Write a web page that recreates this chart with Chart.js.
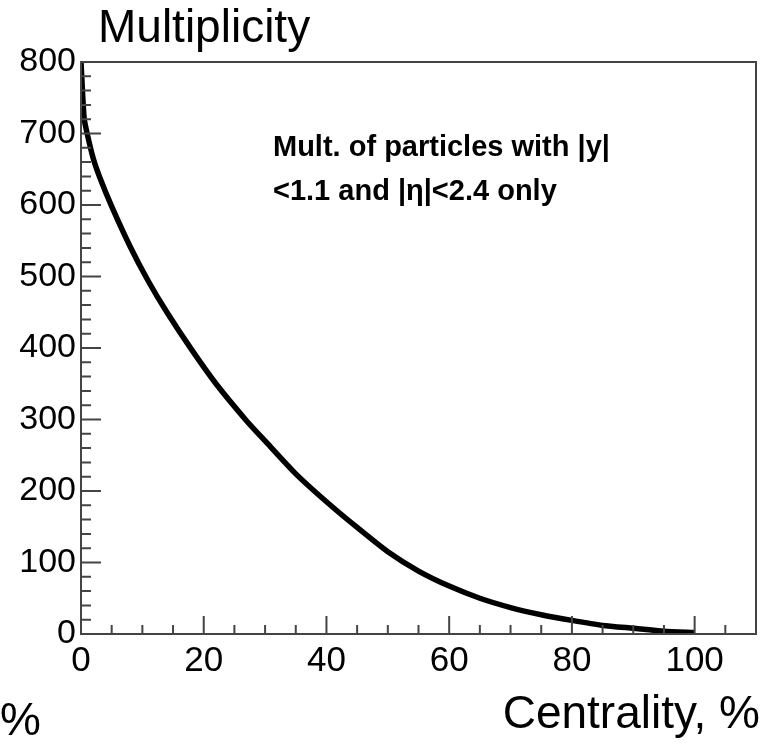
<!DOCTYPE html>
<html>
<head>
<meta charset="utf-8">
<script src="https://cdn.jsdelivr.net/npm/chart.js@4.4.1/dist/chart.umd.min.js"></script>
<style>
  html, body { margin: 0; padding: 0; background: #fff; }
  #wrap { width: 772px; height: 743px; }
</style>
</head>
<body>
<div id="wrap"><canvas id="multChart" width="772" height="743"></canvas></div>
<script>
//--- Data ---//
const centrality = [0, 0.5, 1, 2, 3, 5, 8, 11, 14, 18, 22, 27, 30, 35, 40, 45, 50, 55, 60, 65, 70, 75, 80, 85, 90, 95, 100];
const multiplicity = [800, 722, 700, 665, 640, 598, 542, 493, 450, 398, 350, 298, 270, 224, 185, 149, 115, 88, 67, 50, 37, 27, 19, 12, 8, 4, 2];

const xTicks = [0, 20, 40, 60, 80, 100];
const yTicks = [0, 100, 200, 300, 400, 500, 600, 700, 800];
const xMinorStep = 5;
const yMinorStep = 20;

const yTitle = 'Multiplicity';
const xTitle = 'Centrality, %';
const noteLines = ['Mult. of particles with |y|', '<1.1 and |\u03B7|<2.4 only'];
//------------//

const fontFamily = '"Liberation Sans", Arial, Helvetica, sans-serif';
const axisColor = '#444';

//--- Helpers ---//
function range(min, max, step) {
    const out = [];
    for (let v = min; v <= max + 1e-9; v += step) out.push(v);
    return out;
}
//--------------//

//--- ROOT style frame, inner ticks and texts ---//
const rootFrame = {
    id: 'rootFrame',
    afterDraw(chart) {
        const { ctx, chartArea: a, scales } = chart;
        const x = scales.x, y = scales.y;
        ctx.save();
        ctx.strokeStyle = axisColor;
        ctx.lineWidth = 2;
        ctx.strokeRect(a.left, a.top, a.right - a.left, a.bottom - a.top);

        ctx.beginPath();
        range(x.min, x.max, xMinorStep).forEach(v => {
            if (v >= x.max) return;
            const px = x.getPixelForValue(v);
            const len = xTicks.includes(v) ? 18 : 9;
            ctx.moveTo(px, a.bottom);
            ctx.lineTo(px, a.bottom - len);
        });
        range(y.min, y.max, yMinorStep).forEach(v => {
            const py = y.getPixelForValue(v);
            const len = yTicks.includes(v) ? 20 : 10;
            ctx.moveTo(a.left, py);
            ctx.lineTo(a.left + len, py);
        });
        ctx.stroke();

        ctx.fillStyle = '#000';
        ctx.textBaseline = 'alphabetic';
        ctx.font = '46px ' + fontFamily;
        ctx.textAlign = 'left';
        ctx.fillText(yTitle, 98, 42);
        ctx.textAlign = 'right';
        ctx.fillText(xTitle, 760, 728);
        ctx.textAlign = 'left';
        ctx.fillText('%', 0, 735);

        ctx.font = 'bold 29px ' + fontFamily;
        noteLines.forEach((line, i) => ctx.fillText(line, 273, 156 + i * 44));
        ctx.restore();
    }
};
//------------------//

//---   Chart   ----//
new Chart(document.getElementById('multChart'), {
    type: 'line',
    data: {
        datasets: [{
            label: yTitle,
            data: centrality.map((c, i) => ({ x: c, y: multiplicity[i] })),
            borderColor: '#000',
            borderWidth: 5.5,
            pointRadius: 0,
            tension: 0.2,
            fill: false
        }]
    },
    options: {
        responsive: false,
        animation: false,
        layout: { padding: { top: 62, right: 16, left: 0, bottom: 0 } },
        plugins: {
            legend: { display: false },
            tooltip: { enabled: false }
        },
        scales: {
            x: {
                type: 'linear',
                min: 0,
                max: 110,
                grid: { display: false, drawTicks: false },
                border: { display: false },
                afterBuildTicks: scale => { scale.ticks = xTicks.map(v => ({ value: v })); },
                afterFit: scale => { scale.height = 109; },
                ticks: {
                    color: '#000',
                    padding: 6,
                    maxRotation: 0,
                    font: { family: fontFamily, size: 35 }
                }
            },
            y: {
                min: 0,
                max: 800,
                grid: { display: false, drawTicks: false },
                border: { display: false },
                afterBuildTicks: scale => { scale.ticks = yTicks.map(v => ({ value: v })); },
                afterFit: scale => { scale.width = 81; },
                ticks: {
                    color: '#000',
                    padding: 5,
                    font: { family: fontFamily, size: 34 }
                }
            }
        }
    },
    plugins: [rootFrame]
});
//------------------//
</script>
</body>
</html>
